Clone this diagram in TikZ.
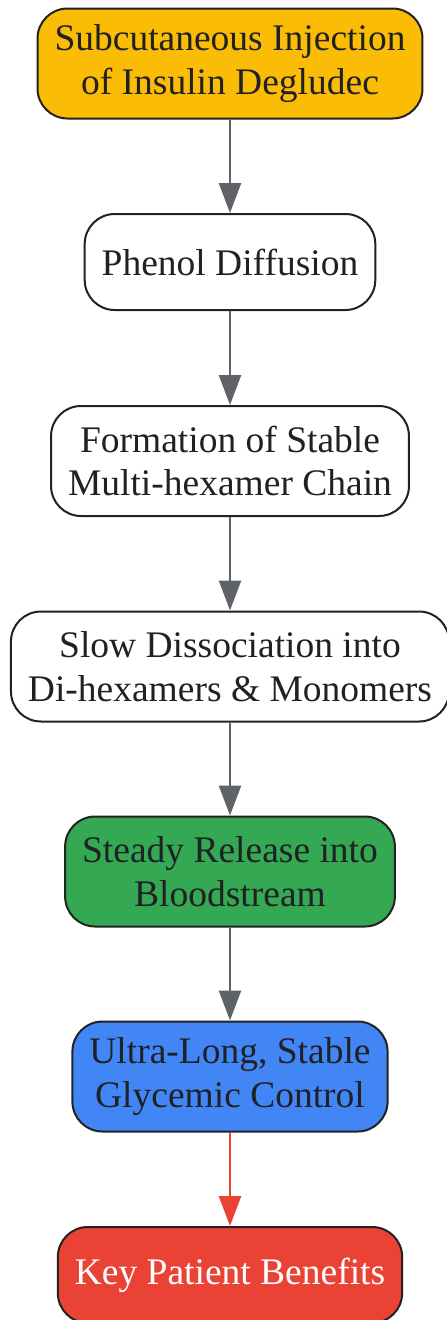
\documentclass[tikz,border=0pt]{standalone}
\usepackage{fontspec}
\setmainfont{Liberation Serif}
\usepackage{xcolor}
\usetikzlibrary{arrows.meta}

\definecolor{amber}{HTML}{FBBC05}
\definecolor{leafgreen}{HTML}{34A853}
\definecolor{skyblue}{HTML}{4285F4}
\definecolor{alertred}{HTML}{EA4335}
\definecolor{boxline}{HTML}{222222}
\definecolor{textdark}{HTML}{202124}
\definecolor{arrowgray}{HTML}{5F6368}

\tikzset{
	stepbox/.style = {draw = boxline, line width = 2pt, rounded corners = 30pt, align = center,
		inner xsep = 17pt, minimum height = 96pt, text = textdark, font = \fontsize{37.5}{43.5}\selectfont},
	twoline/.style = {minimum height = 110pt},
	flow/.style = {draw = arrowgray, line width = 2.5pt, -{Triangle[length = 30pt, width = 22pt]}},
}

\begin{document}
\begin{tikzpicture}[x = 1pt, y = 1pt]
		\useasboundingbox (0,0) rectangle (447,-1320);
		\begin{scope}
			\node[stepbox, twoline, fill = amber] (inject) at (230,-63.5) {Subcutaneous Injection\\of Insulin Degludec};
			\node[stepbox, fill = white] (phenol) at (230,-262) {Phenol Diffusion};
			\node[stepbox, twoline, fill = white] (chain) at (230,-461) {Formation of Stable\\Multi-hexamer Chain};
			\node[stepbox, twoline, fill = white] (dissoc) at (230,-666.5) {Slow Dissociation into\\Di-hexamers \& Monomers};
			\node[stepbox, twoline, fill = leafgreen] (release) at (230,-871.5) {Steady Release into\\Bloodstream};
			\node[stepbox, twoline, fill = skyblue] (control) at (230,-1076.5) {Ultra-Long, Stable\\Glycemic Control};
			\node[stepbox, fill = alertred, text = white] (benefit) at (230,-1275) {Key Patient Benefits};

			\draw[flow] (inject) -- (phenol);
			\draw[flow] (phenol) -- (chain);
			\draw[flow] (chain) -- (dissoc);
			\draw[flow] (dissoc) -- (release);
			\draw[flow] (release) -- (control);
			\draw[flow, draw = alertred] (control) -- (benefit);
		\end{scope}
	\end{tikzpicture}
\end{document}
